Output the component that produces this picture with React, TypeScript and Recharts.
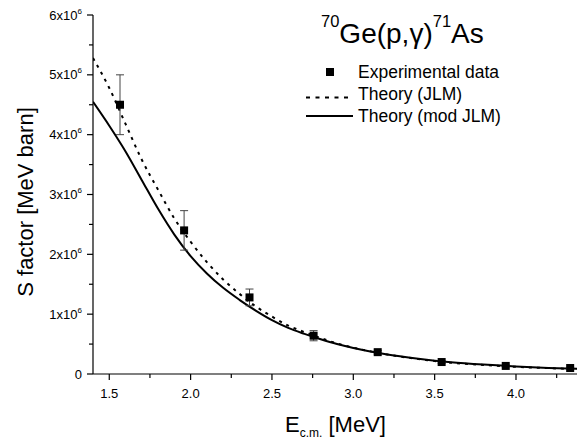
import React from "react";
import { ComposedChart, Line, Scatter, XAxis, YAxis, ErrorBar } from "recharts";

// experimental points (E in MeV, S in MeV barn)
const expE = [1.566, 1.96, 2.362, 2.756, 3.15, 3.543, 3.937, 4.333];
const expS = [4.5e6, 2.4e6, 1.28e6, 0.64e6, 0.365e6, 0.2e6, 0.135e6, 0.1e6];
const expErr = [0.5e6, 0.33e6, 0.14e6, 0.085e6, 0.03e6, 0.02e6, 0.015e6, 0.012e6];

// theory curves, values in units of 1e6
const thE = [1.4, 1.5, 1.6, 1.7, 1.8, 1.9, 2.0, 2.1, 2.2, 2.3, 2.4, 2.5, 2.6, 2.7, 2.8, 2.9, 3.0, 3.2, 3.4, 3.6, 3.8, 4.0, 4.2, 4.375];
const jlm = [5.28, 4.78, 4.18, 3.58, 3.08, 2.6, 2.21, 1.87, 1.58, 1.34, 1.13, 0.96, 0.81, 0.7, 0.6, 0.51, 0.44, 0.33, 0.25, 0.19, 0.15, 0.12, 0.098, 0.082];
const modJlm = [4.55, 4.15, 3.72, 3.24, 2.76, 2.33, 1.97, 1.68, 1.44, 1.24, 1.06, 0.9, 0.77, 0.67, 0.58, 0.5, 0.435, 0.33, 0.255, 0.197, 0.157, 0.126, 0.102, 0.086];

const xTicks = [1.5, 1.75, 2.0, 2.25, 2.5, 2.75, 3.0, 3.25, 3.5, 3.75, 4.0, 4.25];
const yTicks = [0, 0.5e6, 1e6, 1.5e6, 2e6, 2.5e6, 3e6, 3.5e6, 4e6, 4.5e6, 5e6, 5.5e6, 6e6];

const expData = expE.map((x, i) => ({ x, y: expS[i], err: expErr[i] }));
const jlmData = thE.map((x, i) => ({ x, y: jlm[i] * 1e6 }));
const modData = thE.map((x, i) => ({ x, y: modJlm[i] * 1e6 }));

const FONT = "'Liberation Sans', Arial, sans-serif";

const XTick = (props: any) => {
  const { x, y, payload } = props;
  const v = payload.value;
  const major = Math.abs(v * 2 - Math.round(v * 2)) < 1e-6;
  return (
    <g>
      <line x1={x} y1={y} x2={x} y2={y + (major ? 6 : 4)} stroke="#000" strokeWidth={1.2} />
      {major && (
        <text x={x} y={y + 24} textAnchor="middle" fontSize={13} fontFamily={FONT} fill="#000">
          {v.toFixed(1)}
        </text>
      )}
    </g>
  );
};

const YTick = (props: any) => {
  const { x, y, payload } = props;
  const v = payload.value;
  const major = Math.abs(v % 1e6) < 1;
  return (
    <g>
      <line x1={x} y1={y} x2={x - (major ? 6 : 4)} y2={y} stroke="#000" strokeWidth={1.2} />
      {major && (
        <text x={x - 11} y={y + 4.5} textAnchor="end" fontSize={13} fontFamily={FONT} fill="#000">
          {v === 0 ? (
            "0"
          ) : (
            <>
              {`${v / 1e6}x10`}
              <tspan fontSize={8} dy={-6}>6</tspan>
            </>
          )}
        </text>
      )}
    </g>
  );
};

const Square = (props: any) => {
  const { cx, cy } = props;
  return <rect x={cx - 4} y={cy - 4} width={8} height={8} fill="#000" />;
};

const App = () => {
  return (
    <div style={{ position: "absolute", left: 0, top: 0, width: 577, height: 440, background: "#fff" }}>
      <ComposedChart width={577} height={440} margin={{ top: 15, right: 0, bottom: 0, left: 0 }}>
        <XAxis
          dataKey="x"
          type="number"
          domain={[1.4, 4.375]}
          ticks={xTicks}
          tick={<XTick />}
          tickLine={false}
          tickSize={0}
          tickMargin={0}
          height={66}
          axisLine={{ stroke: "#000", strokeWidth: 1.2 }}
          allowDataOverflow
        />
        <YAxis
          dataKey="y"
          type="number"
          domain={[0, 6e6]}
          ticks={yTicks}
          tick={<YTick />}
          tickLine={false}
          tickSize={0}
          tickMargin={0}
          width={93}
          axisLine={{ stroke: "#000", strokeWidth: 1.2 }}
          allowDataOverflow
        />
        <Line
          data={jlmData}
          dataKey="y"
          type="monotone"
          stroke="#000"
          strokeWidth={2}
          strokeDasharray="3 5"
          dot={false}
          isAnimationActive={false}
        />
        <Line
          data={modData}
          dataKey="y"
          type="monotone"
          stroke="#000"
          strokeWidth={2}
          dot={false}
          isAnimationActive={false}
        />
        <Scatter data={expData} dataKey="y" shape={<Square />} isAnimationActive={false}>
          <ErrorBar dataKey="err" direction="y" width={4} stroke="#444" strokeWidth={1} />
        </Scatter>
      </ComposedChart>
      <svg
        width={577}
        height={440}
        style={{ position: "absolute", left: 0, top: 0, pointerEvents: "none" }}
        fontFamily={FONT}
      >
        <text x={321} y={43} fontSize={28} fill="#000">
          <tspan fontSize={16.5} dy={-16}>70</tspan>
          <tspan dy={16}>Ge(p,γ)</tspan>
          <tspan fontSize={16.5} dy={-16}>71</tspan>
          <tspan dy={16}>As</tspan>
        </text>
        <rect x={326} y={68} width={8} height={8} fill="#000" />
        <text x={358} y={78} fontSize={17.5} fill="#000">Experimental data</text>
        <line x1={306} y1={97.5} x2={353} y2={97.5} stroke="#000" strokeWidth={2} strokeDasharray="4 5.5" />
        <text x={358} y={100} fontSize={17.5} fill="#000">Theory (JLM)</text>
        <line x1={306} y1={116} x2={353} y2={116} stroke="#000" strokeWidth={2} />
        <text x={358} y={122} fontSize={17.5} fill="#000">Theory (mod JLM)</text>
        <text x={33} y={202} fontSize={22} textAnchor="middle" fill="#000" transform="rotate(-90, 33, 202)">
          S factor [MeV barn]
        </text>
        <text x={285} y={432} fontSize={22} fill="#000">
          E
          <tspan fontSize={12} dy={5}>c.m.</tspan>
          <tspan dy={-5}> [MeV]</tspan>
        </text>
      </svg>
    </div>
  );
};

export default App;
